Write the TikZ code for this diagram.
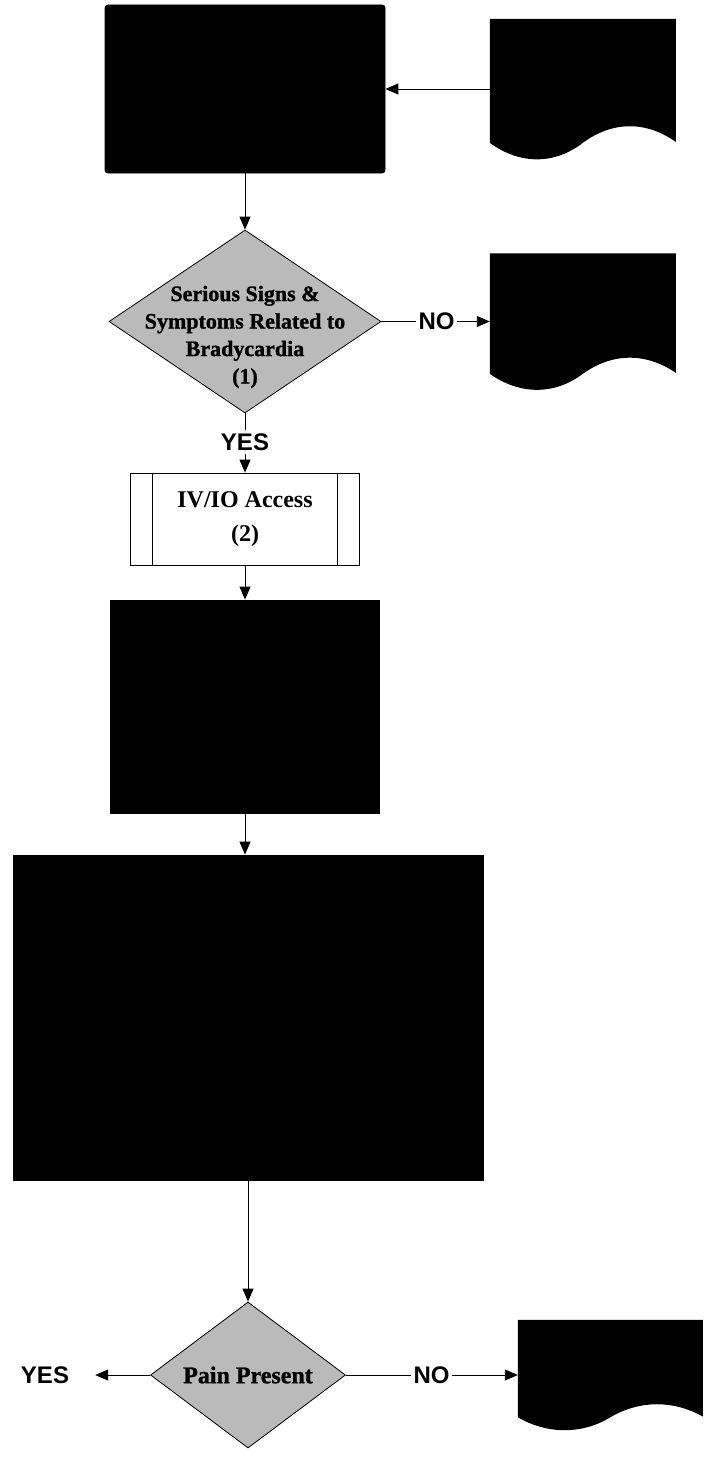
\documentclass[tikz,border=0pt]{standalone}
\usepackage{fontspec}
\setmainfont{Liberation Serif}
\newfontfamily\heavyfont[BoldFeatures={FakeBold=1.2}]{Liberation Serif}
\newfontfamily\lblfont{Liberation Sans}
\usetikzlibrary{shapes.geometric,arrows.meta,calc}
\newcommand{\drawdoc}[3]{%
  \begin{scope}[shift={(#1.north west)}, xscale=#2, yscale=#3]
    \fill[black] (0,0) -- (1,0) -- (1,0.879)
      .. controls (0.839,0.729) and (0.661,0.729) .. (0.5,0.886)
      .. controls (0.349,1.043) and (0.161,1.043) .. (0,0.886) -- cycle;
  \end{scope}}
\begin{document}
\begin{tikzpicture}[x=1pt,y=-1pt,
  solidbox/.style={rectangle, fill=black, draw=black, line width=0.8pt, inner sep=0pt},
  docnode/.style={rectangle, draw=none, inner sep=0pt},
  decision/.style={shape=diamond, draw=black, line width=0.8pt, fill=black!27, inner sep=0pt},
  dtext/.style={font=\heavyfont\bfseries\fontsize{22pt}{27.5pt}\selectfont, align=center, inner sep=0pt},
  ptext/.style={font=\heavyfont\bfseries\fontsize{24pt}{28pt}\selectfont, align=center, inner sep=0pt},
  predef/.style={rectangle, draw=black, line width=0.8pt, fill=white, inner sep=0pt,
    align=center, font=\bfseries\fontsize{24pt}{34pt}\selectfont},
  yn/.style={font=\lblfont\bfseries\fontsize{24pt}{28pt}\selectfont, inner xsep=2pt, inner ysep=3pt},
  ln/.style={line width=0.9pt},
  arr/.style={ln, -{Triangle[length=13pt,width=11pt]}}
]
\useasboundingbox (0,0) rectangle (705,1480);
\fill[white] (0,0) rectangle (705,1480);

% top row
\node[solidbox, rounded corners=3pt, minimum width=280pt, minimum height=168pt] (box1) at (245,89) {};
\node[docnode, minimum width=186pt, minimum height=140pt] (doc1) at (583,89) {};
\drawdoc{doc1}{186}{140}

% decision 1
\node[decision, minimum width=272pt, minimum height=183pt] (dia1) at (245,321.5) {};
\node[dtext] (dia1t) at (245,337) {Serious Signs \&\\Symptoms Related to\\Bradycardia\\(1)};
\node[docnode, minimum width=186pt, minimum height=136pt] (doc2) at (583,321.5) {};
\drawdoc{doc2}{186}{136}
\node[yn] (no1) at (436.5,321.5) {NO};
\node[yn] (yes1) at (245,442) {YES};

% IV/IO access
\node[predef, minimum width=229pt, minimum height=92pt] (iv) at (245,519) {IV/IO Access\\(2)};
\draw[line width=0.8pt] ([xshift=22pt]iv.north west) -- ([xshift=22pt]iv.south west);
\draw[line width=0.8pt] ([xshift=-23pt]iv.north east) -- ([xshift=-23pt]iv.south east);

% black boxes
\node[solidbox, minimum width=269pt, minimum height=213pt] (box3) at (245,706.5) {};
\node[solidbox, minimum width=470pt, minimum height=325pt] (box4) at (248,1017.5) {};

% decision 2
\node[decision, minimum width=195pt, minimum height=146pt] (dia2) at (248,1375) {};
\node[ptext] (dia2t) at (248,1375) {Pain Present};
\node[yn] (yes2) at (45,1375) {YES};
\node[yn] (no2) at (431.5,1375) {NO};
\node[docnode, minimum width=185pt, minimum height=110pt] (doc3) at (610.5,1375) {};
\drawdoc{doc3}{185}{110}

% connectors
\draw[arr] (doc1.west) -- (doc1.west -| box1.east);
\draw[arr] (box1.south) -- (box1.south |- dia1.north);
\draw[ln] (dia1.east) -- (dia1.east -| no1.west);
\draw[arr] (no1.east) -- (no1.east -| doc2.west);
\draw[ln] (dia1.south) -- (dia1.south |- yes1.north);
\draw[arr] (yes1.south) -- (yes1.south |- iv.north);
\draw[arr] (iv.south) -- (iv.south |- box3.north);
\draw[arr] (box3.south) -- (box3.south |- box4.north);
\draw[arr] (box4.south) -- (box4.south |- dia2.north);
\draw[arr, shorten >=24pt] (dia2.west) -- (yes2.east);
\draw[ln] (dia2.east) -- (dia2.east -| no2.west);
\draw[arr] (no2.east) -- (no2.east -| doc3.west);
\end{tikzpicture}
\end{document}
